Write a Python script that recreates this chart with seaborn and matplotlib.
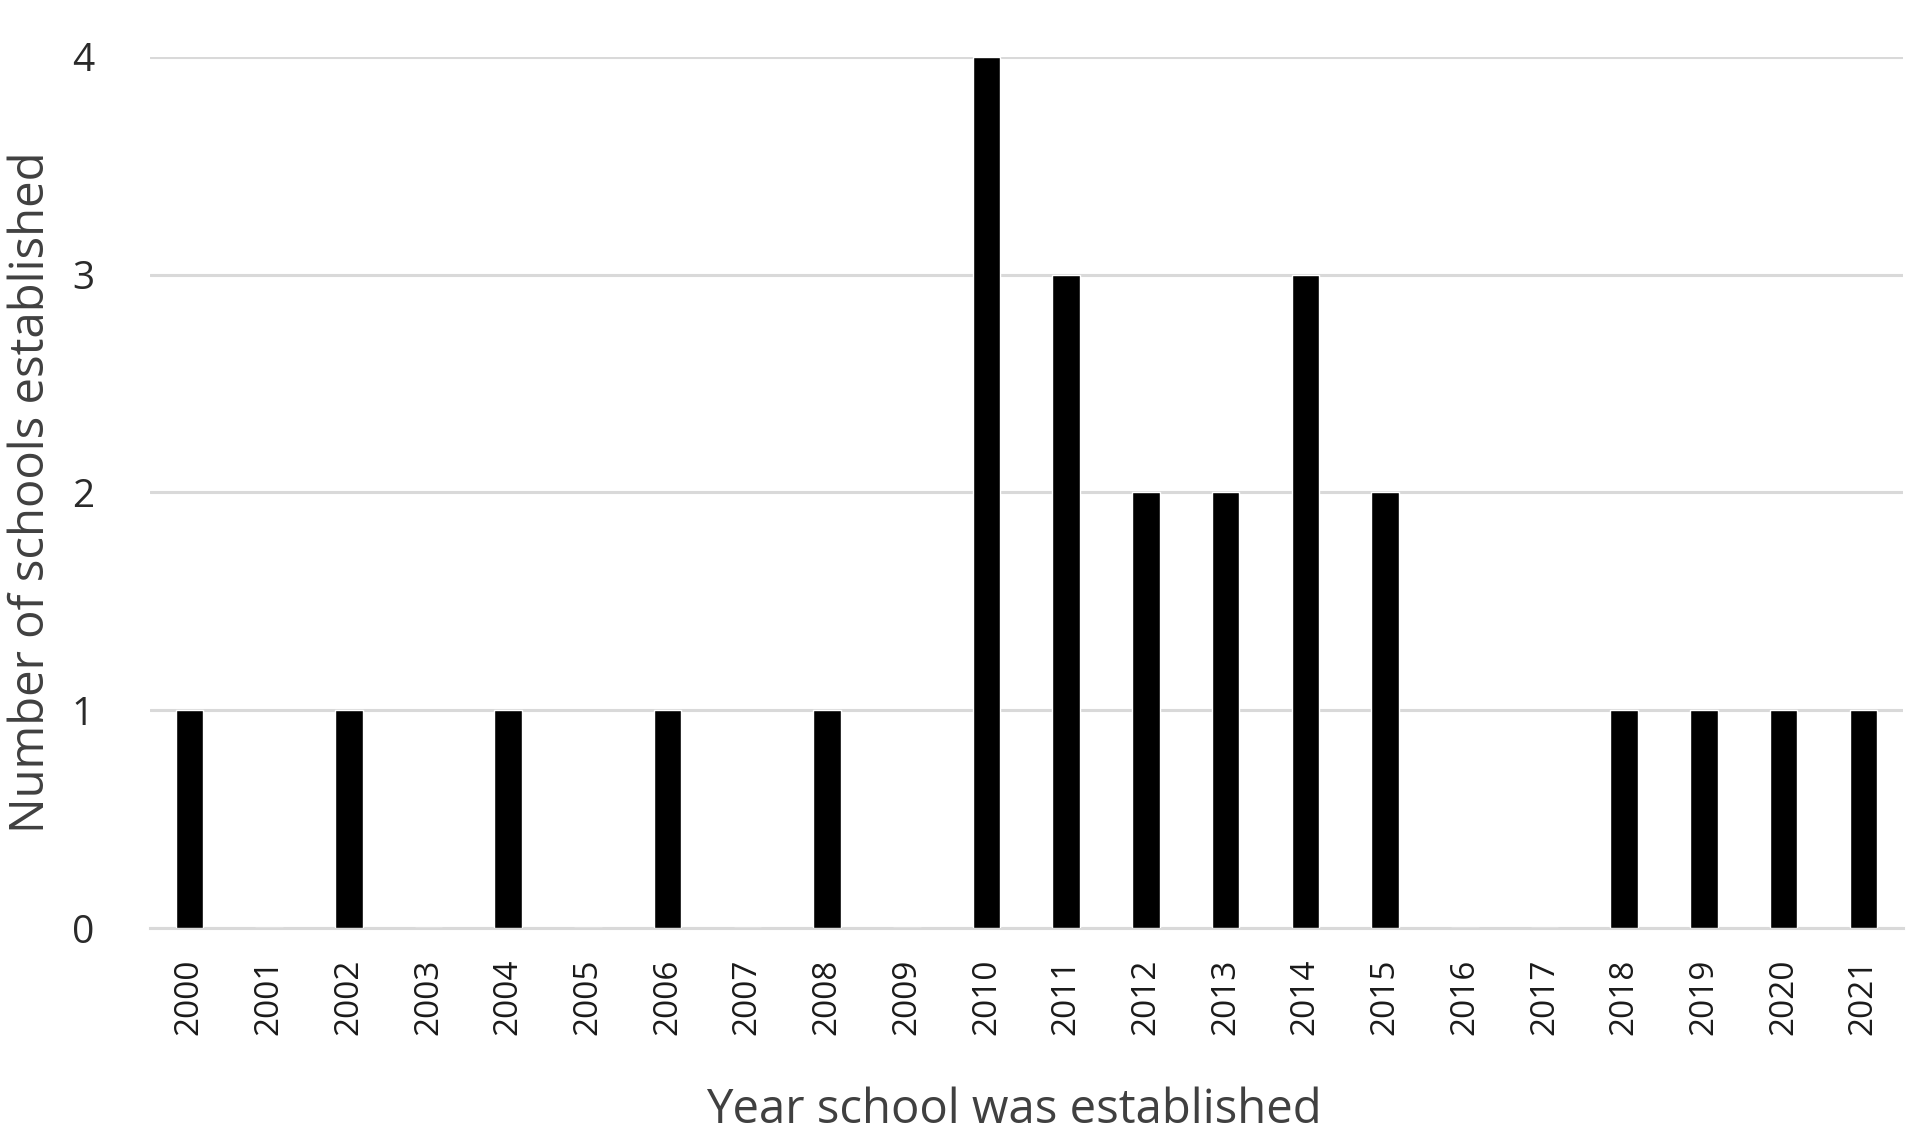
import matplotlib
matplotlib.use("Agg")
import matplotlib.pyplot as plt
import seaborn as sns
import pandas as pd

years = [str(y) for y in range(2000, 2022)]
counts = [1, 0, 1, 0, 1, 0, 1, 0, 1, 0, 4, 3, 2, 2, 3, 2, 0, 0, 1, 1, 1, 1]
y_ticks = [0, 1, 2, 3, 4]
x_title = "Year school was established"
y_title = "Number of schools established"

sns.set_theme(style="white")
plt.rcParams['font.family'] = ['Open Sans', 'DejaVu Sans']

df = pd.DataFrame({"year": years, "count": counts})

fig = plt.figure(figsize=(19.07, 11.38), dpi=100)
ax = fig.add_axes([0.0784, 0.1845, 0.998 - 0.0784, 0.95 - 0.1845])

sns.barplot(data=df, x="year", y="count", color="black", width=0.345,
            saturation=1, ax=ax, zorder=3)

ax.set_ylim(0, 4)
ax.set_yticks(y_ticks)
ax.set_xlim(-0.5, len(years) - 0.5)
ax.yaxis.grid(True, color="#d9d9d9", linewidth=2.2, zorder=0)
ax.set_axisbelow(True)
for s in ["left", "right", "top"]:
    ax.spines[s].set_visible(False)
ax.spines["bottom"].set_color("#d9d9d9")
ax.spines["bottom"].set_linewidth(2.2)
ax.tick_params(axis="both", length=0)
ax.tick_params(axis="y", labelsize=28, labelcolor="#2a2a2a", pad=40)
ax.tick_params(axis="x", labelsize=24, labelcolor="#1a1a1a", pad=22, rotation=90)

ax.set_xlabel(x_title, fontsize=34, color="#404040", labelpad=37)
ax.xaxis.label.set_x(0.493)
ax.set_ylabel(y_title, fontsize=34, color="#404040", labelpad=12)

fig.savefig("out.png", dpi=100, facecolor="white")
